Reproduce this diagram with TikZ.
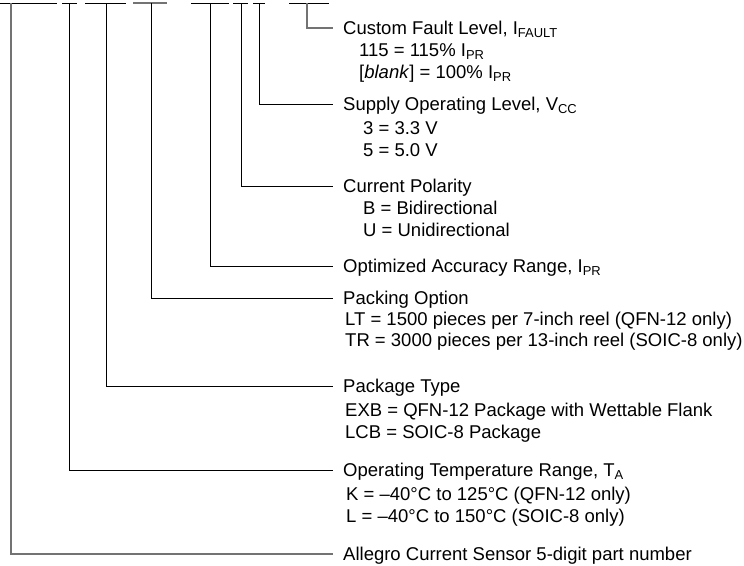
\documentclass[tikz,border=0pt]{standalone}
\usepackage{fontspec}
\setmainfont{Liberation Sans}
\usetikzlibrary{positioning}

\tikzset{
  field/.style={line width=1pt},
  fieldgrey/.style={line width=1.3pt, black!55},
  title/.style={anchor=west, inner xsep=10pt, inner ysep=0pt, text height=13.2pt, text depth=0pt, font=\fontsize{18.5}{22}\selectfont},
  choice/.style={anchor=west, inner sep=0pt, text height=13.2pt, text depth=0pt, font=\fontsize{18.5}{22}\selectfont},
}

\begin{document}
\begin{tikzpicture}[x=1pt,y=-1pt]
  \useasboundingbox (0,0) rectangle (744,565);
  % Part number fields
  \draw[field] (0,3) -- (57,3);
  \draw[field] (62,3) -- (77,3);
  \draw[field] (85,3) -- (126,3);
  \draw[fieldgrey] (133,3) -- (167,3);
  \draw[field] (191,3) -- (229,3);
  \draw[field] (233,3) -- (248,3);
  \draw[field] (253,3) -- (265,3);
  \draw[field] (289,3) -- (329,3);
  % Field taps
  \coordinate (base top) at (11,3);
  \coordinate (temp top) at (69,3);
  \coordinate (package top) at (106,3);
  \coordinate (packing top) at (151,3);
  \coordinate (range top) at (210,3);
  \coordinate (polarity top) at (241,3);
  \coordinate (supply top) at (259,3);
  \coordinate (fault top) at (307,3);
  % Custom fault level
  \node[title] (fault) at (333,28) {Custom Fault Level, I\textsubscript{FAULT}};
  \node[choice] (fault 115) at (359,50) {115 = 115\% I\textsubscript{PR}};
  \node[choice] (fault blank) at (359,72) {[\textit{blank}] = 100\% I\textsubscript{PR}};
  % Supply level
  \node[title] (supply) at (333,104) {Supply Operating Level, V\textsubscript{CC}};
  \node[choice] (supply 3) at (363,128) {3 = 3.3 V};
  \node[choice] (supply 5) at (363,150) {5 = 5.0 V};
  % Polarity
  \node[title] (polarity) at (333,186) {Current Polarity};
  \node[choice] (polarity b) at (363,208) {B = Bidirectional};
  \node[choice] (polarity u) at (363,230) {U = Unidirectional};
  % Accuracy range
  \node[title] (range) at (333,266) {Optimized Accuracy Range, I\textsubscript{PR}};
  % Packing
  \node[title] (packing) at (333,298) {Packing Option};
  \node[choice] (packing lt) at (345,319) {LT = 1500 pieces per 7-inch reel (QFN-12 only)};
  \node[choice] (packing tr) at (345,340) {TR = 3000 pieces per 13-inch reel (SOIC-8 only)};
  % Package
  \node[title] (package) at (333,386) {Package Type};
  \node[choice] (package exb) at (345,410) {EXB = QFN-12 Package with Wettable Flank};
  \node[choice] (package lcb) at (345,432) {LCB = SOIC-8 Package};
  % Temperature
  \node[title] (temp) at (333,470) {Operating Temperature Range, T\textsubscript{A}};
  \node[choice] (temp k) at (346,494) {K = –40°C to 125°C (QFN-12 only)};
  \node[choice] (temp l) at (346,516) {L = –40°C to 150°C (SOIC-8 only)};
  % Base part number
  \node[title] (base) at (333,554) {Allegro Current Sensor 5-digit part number};
  % Connectors
  \draw[fieldgrey] (fault top) |- (fault.west);
  \draw[field] (supply top) |- (supply.west);
  \draw[field] (polarity top) |- (polarity.west);
  \draw[field] (range top) |- (range.west);
  \draw[field] (packing top) |- (packing.west);
  \draw[field] (package top) |- (package.west);
  \draw[field] (temp top) |- (temp.west);
  \draw[fieldgrey] (base top) |- (base.west);
\end{tikzpicture}
\end{document}
